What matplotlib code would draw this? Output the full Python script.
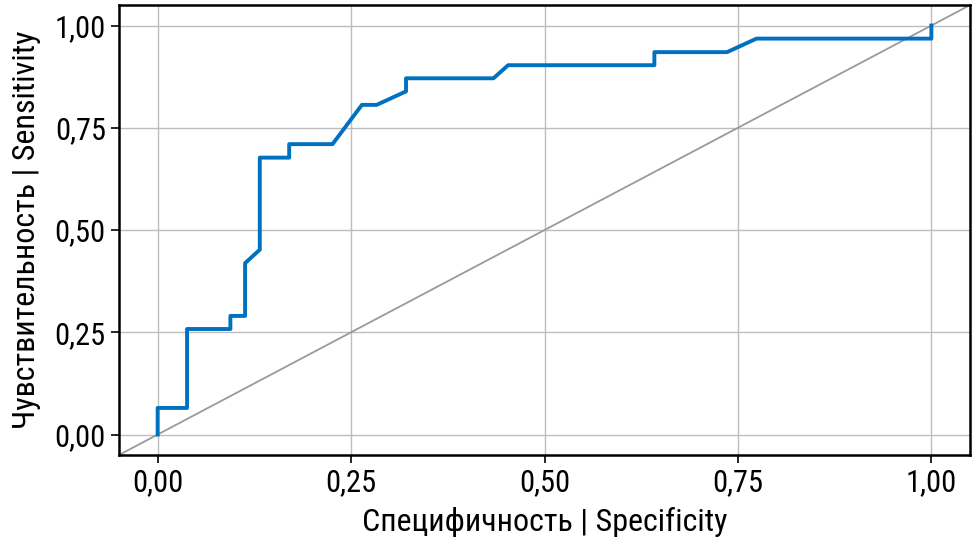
#!/usr/bin/env python3

import matplotlib
matplotlib.use('Agg')
import matplotlib.pyplot as plt

# ======================================================================
# ROC data (vertices of the curve).
# ======================================================================

fpr = [0.000, 0.000, 0.038, 0.038, 0.094, 0.094, 0.113, 0.113, 0.132,
       0.132, 0.170, 0.170, 0.226, 0.264, 0.283, 0.321, 0.321, 0.434,
       0.453, 0.642, 0.642, 0.736, 0.774, 1.000, 1.000]
tpr = [0.000, 0.065, 0.065, 0.258, 0.258, 0.290, 0.290, 0.419, 0.452,
       0.677, 0.677, 0.710, 0.710, 0.806, 0.806, 0.839, 0.871, 0.871,
       0.903, 0.903, 0.935, 0.935, 0.968, 0.968, 1.000]
ticks = [0.0, 0.25, 0.5, 0.75, 1.0]
tick_labels = ['0,00', '0,25', '0,50', '0,75', '1,00']

plt.rcParams['font.family'] = ['Roboto Condensed', 'Liberation Sans Narrow',
                               'DejaVu Sans']

fig = plt.figure(figsize=(9.72, 5.46), dpi=100)
ax = fig.add_axes([0.1224, 0.1667, 0.8756, 0.824])

ax.grid(True, color='#bdbdbd', linewidth=1.0)
ax.set_axisbelow(True)
ax.axline((0, 0), (1, 1), color='#9a9a9a', linewidth=1.3, zorder=2)
ax.plot(fpr, tpr, color='#0070c0', linewidth=2.8, zorder=3)

ax.set_xlim(-0.05, 1.05)
ax.set_ylim(-0.05, 1.05)
ax.set_xticks(ticks)
ax.set_xticklabels(tick_labels)
ax.set_yticks(ticks)
ax.set_yticklabels(tick_labels)
ax.tick_params(labelsize=22, length=6, width=1.2, color='black')
for s in ax.spines.values():
    s.set_linewidth(1.8)
    s.set_color('black')

ax.set_xlabel('Специфичность | Specificity', fontsize=23, labelpad=7)
ax.set_ylabel('Чувствительность | Sensitivity', fontsize=23, labelpad=10)

fig.savefig('out.png', dpi=100)
plt.close()
